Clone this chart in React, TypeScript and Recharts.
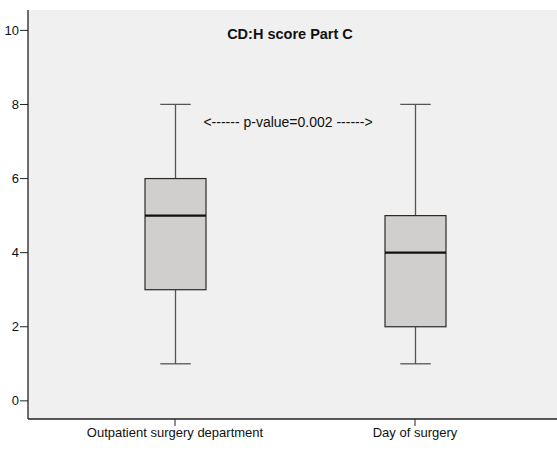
import React from "react";
import { Bar, CartesianGrid, ComposedChart, XAxis, YAxis } from "recharts";

const groups = ["Outpatient surgery department", "Day of surgery"];
const minValues = [1, 1];
const q1Values = [3, 2];
const medianValues = [5, 4];
const q3Values = [6, 5];
const maxValues = [8, 8];
const yTicks = [0, 2, 4, 6, 8, 10];

const chartData = groups.map((name, i) => ({
  name,
  min: minValues[i],
  q1: q1Values[i],
  median: medianValues[i],
  q3: q3Values[i],
  max: maxValues[i],
}));

const font = "'Liberation Sans', Arial, sans-serif";

function BoxShape(props: any) {
  const { x, y, width, height, payload } = props;
  const top = Math.min(y, y + height);
  const h = Math.abs(height);
  const span = payload.max - payload.min;
  const py = (v: number) => top + ((payload.max - v) / span) * h;
  const cx = x + width / 2;
  const cap = width / 2;
  const yMax = py(payload.max);
  const yMin = py(payload.min);
  const yQ3 = py(payload.q3);
  const yQ1 = py(payload.q1);
  const yMed = py(payload.median);
  return (
    <g>
      <line x1={cx} x2={cx} y1={yMax} y2={yQ3} stroke="#555" strokeWidth={1.3} />
      <line x1={cx} x2={cx} y1={yQ1} y2={yMin} stroke="#555" strokeWidth={1.3} />
      <line x1={cx - cap / 2} x2={cx + cap / 2} y1={yMax} y2={yMax} stroke="#555" strokeWidth={1.3} />
      <line x1={cx - cap / 2} x2={cx + cap / 2} y1={yMin} y2={yMin} stroke="#555" strokeWidth={1.3} />
      <rect x={x} y={yQ3} width={width} height={yQ1 - yQ3} fill="#d0cfcd" stroke="#2a2a2a" strokeWidth={1.2} />
      <line x1={x} x2={x + width} y1={yMed} y2={yMed} stroke="#111" strokeWidth={2.2} />
    </g>
  );
}

export default function App() {
  return (
    <div style={{ position: "absolute", left: 0, top: 0, width: 557, height: 450, background: "#ffffff", fontFamily: font }}>
      <ComposedChart width={557} height={450} data={chartData} margin={{ top: 10, right: 0, bottom: 0, left: 0 }}>
        <CartesianGrid fill="#f0f0f0" horizontal={false} vertical={false} />
        <XAxis
          dataKey="name"
          height={31}
          padding={{ left: 27, right: 22 }}
          axisLine={{ stroke: "#222", strokeWidth: 1.3 }}
          tickLine={{ stroke: "#222" }}
          tickSize={7}
          tick={{ fill: "#111", fontSize: 13, fontFamily: font }}
          interval={0}
        />
        <XAxis
          xAxisId="top"
          orientation="top"
          dataKey="name"
          height={0}
          tick={false}
          tickLine={false}
          axisLine={{ stroke: "#222", strokeWidth: 1.3 }}
        />
        <YAxis
          width={28}
          domain={[-0.49, 10.55]}
          ticks={yTicks}
          allowDataOverflow
          axisLine={{ stroke: "#222", strokeWidth: 1.3 }}
          tickLine={{ stroke: "#222" }}
          tickSize={8}
          tickMargin={1}
          tick={{ fill: "#111", fontSize: 13, fontFamily: font }}
        />
        <Bar
          dataKey={(d: any) => [d.min, d.max]}
          barSize={61}
          shape={<BoxShape />}
          isAnimationActive={false}
        />
      </ComposedChart>
      <div style={{ position: "absolute", left: 190, width: 200, top: 26, textAlign: "center", fontSize: 14.5, fontWeight: "bold", color: "#111" }}>
        CD:H score Part C
      </div>
      <div style={{ position: "absolute", left: 188, width: 200, top: 114, textAlign: "center", fontSize: 14, color: "#111" }}>
        {"<------ p-value=0.002 ------>"}
      </div>
    </div>
  );
}
